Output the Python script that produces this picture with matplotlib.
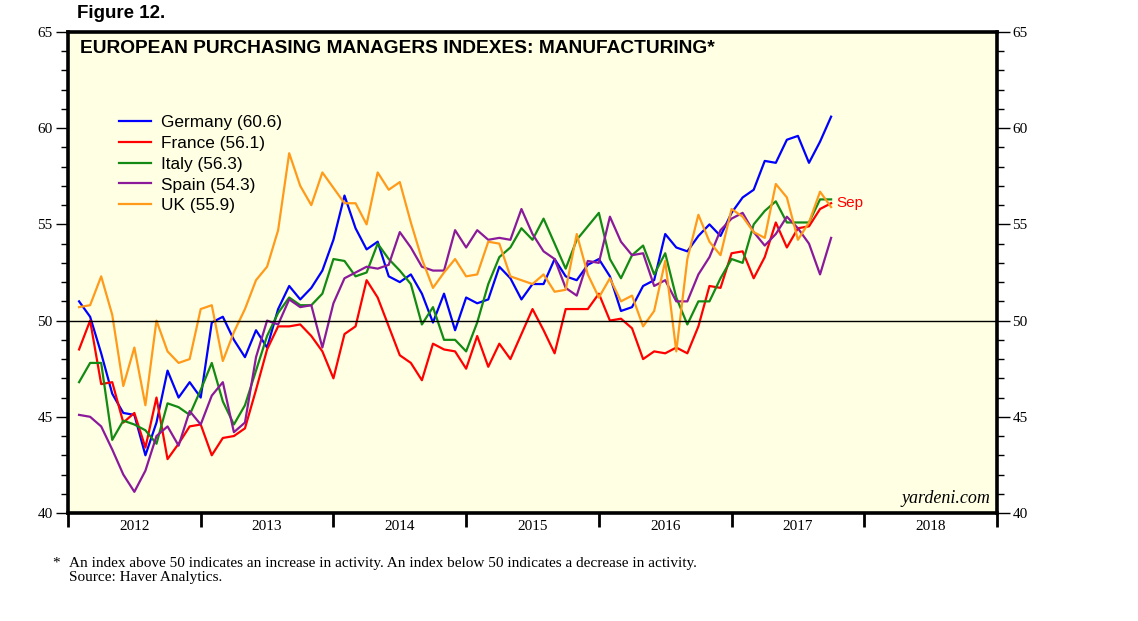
import numpy as np
import matplotlib
matplotlib.use("Agg")
import matplotlib.pyplot as plt
from matplotlib.ticker import MultipleLocator, FixedLocator, NullFormatter

# monthly PMI readings, Jan 2012 .. Sep 2017
start_year = 2012
germany = [51.0, 50.2, 48.3, 46.2, 45.2, 45.1, 43.0, 44.7, 47.4, 46.0, 46.8, 46.0,
           49.9, 50.2, 49.0, 48.1, 49.5, 48.6, 50.6, 51.8, 51.1, 51.7, 52.6, 54.2,
           56.5, 54.8, 53.7, 54.1, 52.3, 52.0, 52.4, 51.4, 49.9, 51.4, 49.5, 51.2,
           50.9, 51.1, 52.8, 52.2, 51.1, 51.9, 51.9, 53.2, 52.3, 52.1, 52.9, 53.2,
           52.3, 50.5, 50.7, 51.8, 52.1, 54.5, 53.8, 53.6, 54.4, 55.0, 54.4, 55.6,
           56.4, 56.8, 58.3, 58.2, 59.4, 59.6, 58.2, 59.3, 60.6]
france = [48.5, 50.0, 46.7, 46.8, 44.7, 45.2, 43.4, 46.0, 42.8, 43.6, 44.5, 44.6,
          43.0, 43.9, 44.0, 44.4, 46.4, 48.5, 49.7, 49.7, 49.8, 49.2, 48.4, 47.0,
          49.3, 49.7, 52.1, 51.2, 49.7, 48.2, 47.8, 46.9, 48.8, 48.5, 48.4, 47.5,
          49.2, 47.6, 48.8, 48.0, 49.3, 50.6, 49.5, 48.3, 50.6, 50.6, 50.6, 51.4,
          50.0, 50.1, 49.6, 48.0, 48.4, 48.3, 48.6, 48.3, 49.7, 51.8, 51.7, 53.5,
          53.6, 52.2, 53.3, 55.1, 53.8, 54.8, 54.9, 55.8, 56.1]
italy = [46.8, 47.8, 47.8, 43.8, 44.8, 44.6, 44.3, 43.6, 45.7, 45.5, 45.1, 46.4,
         47.8, 45.8, 44.6, 45.6, 47.4, 49.2, 50.4, 51.2, 50.8, 50.8, 51.4, 53.2,
         53.1, 52.3, 52.5, 54.0, 53.2, 52.6, 51.9, 49.8, 50.7, 49.0, 49.0, 48.4,
         49.9, 51.9, 53.3, 53.8, 54.8, 54.2, 55.3, 54.0, 52.7, 54.2, 54.9, 55.6,
         53.2, 52.2, 53.4, 53.9, 52.4, 53.5, 51.2, 49.8, 51.0, 51.0, 52.2, 53.2,
         53.0, 55.0, 55.7, 56.2, 55.1, 55.1, 55.1, 56.3, 56.3]
spain = [45.1, 45.0, 44.5, 43.3, 42.0, 41.1, 42.2, 44.0, 44.5, 43.5, 45.3, 44.6,
         46.1, 46.8, 44.2, 44.7, 48.1, 50.0, 49.8, 51.1, 50.7, 50.8, 48.6, 50.9,
         52.2, 52.5, 52.8, 52.7, 52.9, 54.6, 53.8, 52.8, 52.6, 52.6, 54.7, 53.8,
         54.7, 54.2, 54.3, 54.2, 55.8, 54.5, 53.6, 53.2, 51.7, 51.3, 53.1, 53.0,
         55.4, 54.1, 53.4, 53.5, 51.8, 52.1, 51.0, 51.0, 52.4, 53.3, 54.7, 55.3,
         55.6, 54.6, 53.9, 54.5, 55.4, 54.8, 54.0, 52.4, 54.3]
uk = [50.7, 50.8, 52.3, 50.3, 46.6, 48.6, 45.6, 50.0, 48.4, 47.8, 48.0, 50.6,
      50.8, 47.9, 49.4, 50.6, 52.1, 52.8, 54.7, 58.7, 57.0, 56.0, 57.7, 56.9,
      56.1, 56.1, 55.0, 57.7, 56.8, 57.2, 55.1, 53.2, 51.7, 52.5, 53.2, 52.3,
      52.4, 54.1, 54.0, 52.3, 52.1, 51.9, 52.4, 51.5, 51.6, 54.5, 52.4, 51.2,
      52.2, 51.0, 51.3, 49.7, 50.5, 53.1, 48.4, 53.2, 55.5, 54.1, 53.4, 55.8,
      55.4, 54.6, 54.3, 57.1, 56.4, 54.2, 55.1, 56.7, 55.9]

names = ["Germany", "France", "Italy", "Spain", "UK"]
colors = ["#0000ff", "#ff0000", "#138a13", "#8b1a9b", "#ff9a1a"]
series = [germany, france, italy, spain, uk]
years = list(range(2012, 2019))

serif = ["Liberation Serif", "DejaVu Serif"]
sans = ["Liberation Sans", "DejaVu Sans"]
narrow = ["Liberation Sans Narrow", "Liberation Sans", "DejaVu Sans"]

fig = plt.figure(figsize=(11.38, 6.21), dpi=100)
ax = fig.add_axes([68 / 1138, 108 / 621, 929 / 1138, 481 / 621])
ax.set_facecolor("#ffffe3")

# points sit at month end
x = start_year + (np.arange(len(germany)) + 1) / 12.0
for name, col, vals in zip(names, colors, series):
    ax.plot(x, vals, color=col, lw=1.6, label=f"{name} ({vals[-1]:.1f})")

ax.axhline(50, color="black", lw=1.0)

ax.set_xlim(2012, 2019)
ax.set_ylim(40, 65)

for sp in ax.spines.values():
    sp.set_linewidth(2.6)

ax.yaxis.set_major_locator(MultipleLocator(5))
ax.yaxis.set_minor_locator(MultipleLocator(1))
ax.tick_params(axis="y", which="major", direction="out", length=9, width=1.0,
               left=True, right=True, labelleft=True, labelright=True, pad=2)
ax.tick_params(axis="y", which="minor", direction="out", length=5, width=1.0,
               left=True, right=True)
for lab in ax.get_yticklabels():
    lab.set_fontfamily(serif)
    lab.set_fontsize(11)

ax.xaxis.set_major_locator(FixedLocator(list(range(2012, 2020))))
ax.xaxis.set_major_formatter(NullFormatter())
ax.xaxis.set_minor_locator(FixedLocator([y + 0.5 for y in years]))
ax.set_xticklabels([str(y) for y in years], minor=True)
ax.tick_params(axis="x", which="major", direction="out", length=10, width=2.0)
ax.tick_params(axis="x", which="minor", length=0, pad=5)
for lab in ax.get_xticklabels(minor=True):
    lab.set_fontfamily(serif)
    lab.set_fontsize(11)

leg = ax.legend(loc="upper left", bbox_to_anchor=(0.0549, 0.828), frameon=False,
                handlelength=1.86, handletextpad=0.58, labelspacing=0.34,
                borderpad=0, borderaxespad=0, prop={"family": sans, "size": 12.4})
for line in leg.get_lines():
    line.set_linewidth(1.6)

ax.text(0.013, 0.965, "EUROPEAN PURCHASING MANAGERS INDEXES: MANUFACTURING*",
        transform=ax.transAxes, ha="left", va="center", fontsize=13.8,
        fontweight="bold", family=narrow)

ax.text(x[-1] + 0.04, france[-1], "Sep", color="#ff0000", fontsize=11,
        family=sans, ha="left", va="center")

ax.text(0.993, 0.012, "yardeni.com", transform=ax.transAxes, ha="right",
        va="bottom", fontsize=13, style="italic", family=serif)

fig.text(77 / 1138, 1 - 14 / 621, "Figure 12.", ha="left", va="center",
         fontsize=13.5, fontweight="bold", family=narrow)

fig.text(52 / 1138, 1 - 563 / 621, "*", ha="left", va="center",
         fontsize=11, family=serif)
fig.text(69 / 1138, 1 - 563 / 621,
         "An index above 50 indicates an increase in activity. An index below 50 indicates a decrease in activity.",
         ha="left", va="center", fontsize=11, family=serif)
fig.text(69 / 1138, 1 - 578 / 621, "Source: Haver Analytics.", ha="left",
         va="center", fontsize=11, family=serif)

fig.savefig("out.png", dpi=100, facecolor="white")
